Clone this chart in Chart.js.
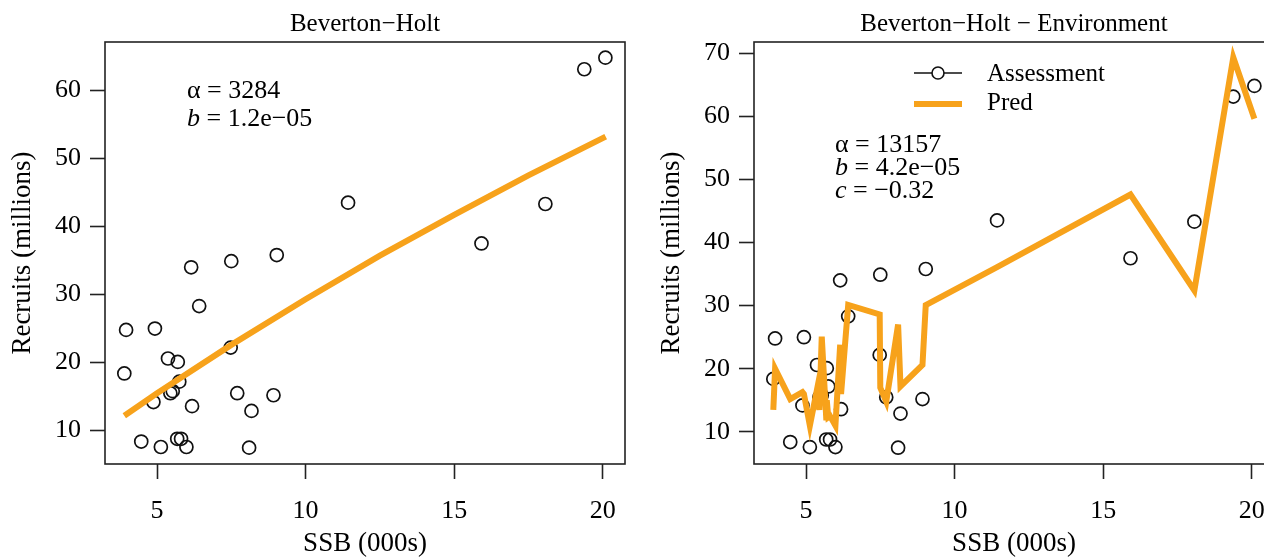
<!DOCTYPE html>
<html>
<head>
<meta charset="utf-8">
<script src="https://cdn.jsdelivr.net/npm/chart.js@4"></script>
<style>
  html, body { margin: 0; padding: 0; background: #fff; overflow: hidden; width: 1264px; height: 557px; }
  .panel { position: absolute; top: 0; }
  #left { left: 0; }
  #right { left: 649px; }
</style>
</head>
<body>
<div class="panel" id="left"><canvas id="chartBH" width="640" height="557" style="width:640px;height:557px"></canvas></div>
<div class="panel" id="right"><canvas id="chartEnv" width="640" height="557" style="width:640px;height:557px"></canvas></div>
<script>
// tick labels
var xTicks = [5, 10, 15, 20];
var yTicksBH = [10, 20, 30, 40, 50, 60];
var yTicksEnv = [10, 20, 30, 40, 50, 60, 70];

// assessment points: SSB (000s) and recruits (millions), sorted by SSB
var ssb = [3.90, 3.96, 4.47, 4.88, 4.93, 5.13, 5.37, 5.45, 5.53, 5.68, 5.70, 5.75, 5.81, 5.99,
           6.15, 6.18, 6.42, 7.48, 7.50, 7.70, 8.10, 8.18, 8.92, 9.03, 11.43, 15.92, 18.07, 19.38, 20.09];
var recruits = [18.4, 24.8, 8.4, 14.2, 25.0, 7.6, 20.6, 15.5, 15.8, 8.8, 20.1, 17.2, 8.8, 7.6,
                34.0, 13.6, 28.3, 22.2, 34.9, 15.5, 7.5, 12.9, 15.2, 35.8, 43.5, 37.5, 43.3, 63.1, 64.8];

// Beverton-Holt fitted line
var bhSsb = [3.9, 5, 7.5, 10, 12.5, 15, 17.5, 20.1];
var bhPred = [12.2, 15.5, 22.6, 29.3, 35.7, 41.7, 47.5, 53.2];

// Beverton-Holt with environment, predicted at each SSB (right panel)
var envPred = [13.5, 20.0, 15.2, 16.3, 16.0, 11.0, 16.7, 13.5, 25.1, 12.3, 15.0, 12.3, 12.5, 11.0,
               23.8, 16.0, 30.1, 28.6, 17.0, 14.8, 27.0, 17.2, 20.6, 30.1, 36.1, 47.6, 32.4, 69.3, 59.6];

var FONT = '"Liberation Serif", "Times New Roman", serif';
var ORANGE = '#F7A21B';
var INK = '#000';

function toPoints(xs, ys) {
    return xs.map(function (x, i) { return { x: x, y: ys[i] }; });
}

// box round the plot, parameter notes and legend
var framePlugin = {
    id: 'frame',
    afterDraw: function (chart, args, opts) {
        var a = chart.chartArea;
        var ctx = chart.ctx;
        ctx.save();
        ctx.strokeStyle = '#222';
        ctx.lineWidth = 1.6;
        ctx.strokeRect(a.left, a.top, a.right - a.left, a.bottom - a.top);

        ctx.fillStyle = INK;
        ctx.textBaseline = 'middle';
        ctx.textAlign = 'left';
        (opts.notes || []).forEach(function (line, i) {
            var x = a.left + opts.noteX;
            var y = a.top + opts.noteY + i * opts.noteGap;
            line.forEach(function (seg) {
                ctx.font = (seg.i ? 'italic ' : '') + opts.noteSize + 'px ' + FONT;
                ctx.fillText(seg.t, x, y);
                x += ctx.measureText(seg.t).width;
            });
        });

        if (opts.legend) {
            var lx = a.left + opts.legend.x;
            var ly = a.top + opts.legend.y;
            var sets = chart.data.datasets;
            ctx.font = '25px ' + FONT;
            // Assessment: line with circle
            ctx.strokeStyle = '#111';
            ctx.lineWidth = 1.6;
            ctx.beginPath();
            ctx.moveTo(lx, ly);
            ctx.lineTo(lx + 48, ly);
            ctx.stroke();
            ctx.fillStyle = '#fff';
            ctx.beginPath();
            ctx.arc(lx + 24, ly, 6, 0, 2 * Math.PI);
            ctx.fill();
            ctx.stroke();
            ctx.fillStyle = INK;
            ctx.fillText(sets[0].label, lx + 73, ly + 1);
            // Pred: thick orange line
            ctx.strokeStyle = ORANGE;
            ctx.lineWidth = 6;
            ctx.beginPath();
            ctx.moveTo(lx, ly + 31);
            ctx.lineTo(lx + 48, ly + 31);
            ctx.stroke();
            ctx.fillText(sets[1].label, lx + 73, ly + 30);
        }
        ctx.restore();
    }
};

function makeOptions(title, yMin, yMax, yTicks, frame) {
    return {
        responsive: false,
        animation: false,
        layout: { padding: { right: 15 } },
        plugins: {
            legend: { display: false },
            tooltip: { enabled: false },
            title: {
                display: true,
                text: title,
                fullSize: false,
                color: INK,
                font: { family: FONT, size: 25, weight: 'normal' },
                padding: { top: 9, bottom: 3 }
            },
            frame: frame
        },
        scales: {
            x: {
                type: 'linear',
                min: 3.25,
                max: 20.75,
                afterBuildTicks: function (scale) {
                    scale.ticks = xTicks.map(function (v) { return { value: v }; });
                },
                afterFit: function (scale) { scale.height = 93; },
                grid: { drawOnChartArea: false, drawTicks: true, tickLength: 15, tickColor: '#222', tickWidth: 1.6 },
                border: { display: false },
                ticks: { color: INK, font: { family: FONT, size: 26 }, padding: 17, maxRotation: 0, autoSkip: false },
                title: { display: true, text: 'SSB (000s)', color: INK, font: { family: FONT, size: 27, lineHeight: 1 }, padding: 0 }
            },
            y: {
                type: 'linear',
                min: yMin,
                max: yMax,
                afterBuildTicks: function (scale) {
                    scale.ticks = yTicks.map(function (v) { return { value: v }; });
                },
                afterFit: function (scale) { scale.width = 105; },
                grid: { drawOnChartArea: false, drawTicks: true, tickLength: 15, tickColor: '#222', tickWidth: 1.6 },
                border: { display: false },
                ticks: { color: INK, font: { family: FONT, size: 26 }, padding: 9, autoSkip: false },
                title: { display: true, text: 'Recruits (millions)', color: INK, font: { family: FONT, size: 27, lineHeight: 1 }, padding: { top: 9, bottom: 0 } }
            }
        }
    };
}

function pointSet(label) {
    return {
        label: label,
        data: toPoints(ssb, recruits),
        showLine: false,
        pointRadius: 6.5,
        pointBorderWidth: 1.7,
        pointBorderColor: '#111',
        pointBackgroundColor: 'rgba(0,0,0,0)',
        order: 1
    };
}

function lineSet(label, xs, ys) {
    return {
        label: label,
        data: toPoints(xs, ys),
        showLine: true,
        borderColor: ORANGE,
        borderWidth: 6,
        pointRadius: 0,
        fill: false,
        tension: 0,
        order: 0
    };
}

new Chart(document.getElementById('chartBH'), {
    type: 'scatter',
    data: { datasets: [pointSet('Assessment'), lineSet('Pred', bhSsb, bhPred)] },
    options: makeOptions('Beverton\u2212Holt', 5.1, 67.1, yTicksBH, {
        notes: [
            [{ t: '\u03b1 = 3284' }],
            [{ t: 'b', i: true }, { t: ' = 1.2e\u221205' }]
        ],
        noteX: 82, noteY: 49, noteGap: 28, noteSize: 26
    }),
    plugins: [framePlugin]
});

new Chart(document.getElementById('chartEnv'), {
    type: 'scatter',
    data: { datasets: [pointSet('Assessment'), lineSet('Pred', ssb, envPred)] },
    options: makeOptions('Beverton\u2212Holt \u2212 Environment', 4.92, 71.75, yTicksEnv, {
        notes: [
            [{ t: '\u03b1 = 13157' }],
            [{ t: 'b', i: true }, { t: ' = 4.2e\u221205' }],
            [{ t: 'c', i: true }, { t: ' = \u22120.32' }]
        ],
        noteX: 81, noteY: 103, noteGap: 23, noteSize: 26,
        legend: { x: 160, y: 31 }
    }),
    plugins: [framePlugin]
});
</script>
</body>
</html>
